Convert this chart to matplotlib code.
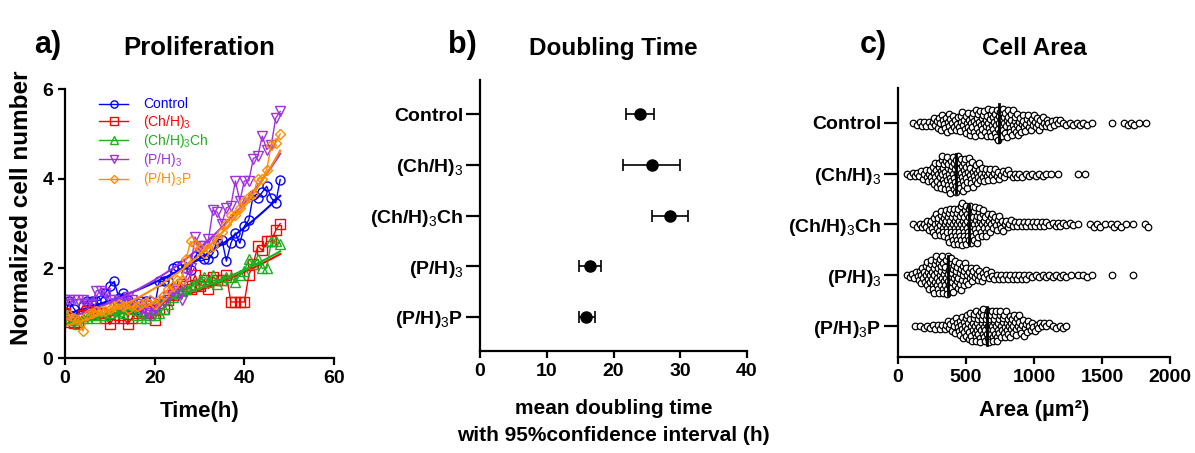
import numpy as np
import matplotlib
matplotlib.use('Agg')
import matplotlib.pyplot as plt

# --- Fonts ---
plt.rcParams['font.family'] = ['Liberation Sans', 'DejaVu Sans']
plt.rcParams['mathtext.fontset'] = 'custom'
plt.rcParams['mathtext.rm'] = 'Liberation Sans'
plt.rcParams['mathtext.default'] = 'rm'

# --- Data: a) proliferation, normalized cell number per hour ---
time_h = list(range(0, 49))

control = [1.0, 1.27, 1.1, 0.98, 1.15, 1.27, 1.27, 1.27, 1.3, 1.45, 1.6, 1.71, 1.34,
           1.45, 1.3, 1.15, 1.08, 1.27, 1.27, 1.27, 1.15, 1.71, 1.71, 1.71, 2.0, 2.05,
           2.08, 2.0, 1.97, 2.27, 2.27, 2.2, 2.2, 2.34, 2.64, 2.64, 2.16, 2.56, 2.79,
           2.56, 2.94, 3.08, 3.64, 3.57, 3.7, 3.83, 3.57, 3.46, 3.98]
ch_h3 = [1.0, 0.8, 0.78, 0.8, 0.95, 1.05, 1.0, 1.0, 1.0, 0.9, 0.75, 0.9, 0.95, 0.9,
         0.75, 0.9, 1.0, 1.05, 1.0, 1.0, 0.85, 1.1, 1.1, 1.3, 1.4, 1.5, 1.65, 1.6,
         1.55, 1.85, 1.6, 1.75, 1.55, 1.8, 1.75, 1.75, 1.85, 1.25, 1.25, 1.25, 1.25,
         1.85, 2.1, 2.5, 2.4, 2.6, 2.6, 2.85, 3.0]
ch_h3_ch = [1.0, 0.85, 0.85, 0.75, 0.9, 0.9, 0.95, 0.9, 0.95, 0.95, 1.0, 1.1, 1.05,
            1.0, 1.1, 1.2, 0.95, 0.9, 0.9, 0.95, 0.95, 1.0, 1.1, 1.2, 1.35, 1.45, 1.5,
            1.55, 1.6, 1.65, 1.75, 1.8, 1.7, 1.85, 1.65, 1.75, 1.8, 1.8, 1.7, 1.85,
            1.95, 2.2, 2.1, 2.2, 2.0, 2.0, 2.6, 2.6, 2.55]
p_h3 = [1.3, 1.3, 1.3, 1.3, 1.3, 1.2, 1.2, 1.5, 1.5, 1.45, 1.3, 1.3, 1.25, 1.2, 1.35,
        1.3, 1.2, 1.1, 1.0, 0.95, 1.1, 1.2, 1.25, 1.35, 1.5, 1.55, 1.3, 1.8, 2.0, 2.7,
        2.5, 2.5, 2.65, 3.3, 3.25, 3.0, 3.35, 3.4, 3.95, 3.5, 3.95, 3.95, 4.45, 4.5,
        4.95, 4.65, 4.75, 5.35, 5.5]
p_h3_p = [0.95, 0.95, 0.9, 0.85, 0.6, 0.95, 1.0, 1.05, 1.05, 1.05, 1.1, 1.15, 1.2,
          1.15, 1.1, 1.15, 1.15, 1.2, 1.25, 1.3, 1.2, 1.3, 1.4, 1.55, 1.6, 1.75, 1.75,
          2.2, 2.6, 2.55, 2.45, 2.35, 2.45, 2.5, 2.65, 2.8, 3.0, 3.2, 3.2, 3.35, 3.5,
          3.6, 3.65, 4.0, 4.0, 4.2, 4.75, 4.8, 5.0]

legend_labels = ['Control', '(Ch/H)$_3$', '(Ch/H)$_3$Ch', '(P/H)$_3$', '(P/H)$_3$P']
groups = ['Control', '(Ch/H)$_3$', '(Ch/H)$_3$Ch', '(P/H)$_3$', '(P/H)$_3$P']

# --- Data: b) doubling time (h), mean and 95% CI ---
dt_mean = [24.0, 25.7, 28.4, 16.5, 15.9]
dt_low = [21.8, 21.4, 25.7, 14.8, 14.8]
dt_high = [26.1, 30.0, 31.1, 18.1, 17.2]

# --- Data: c) cell area, counts per 50 um^2 bin (estimated from swarm) ---
area_bin_width = 50
area_bin_start = [100, 50, 100, 50, 100]
area_counts = [
    [2, 3, 3, 5, 7, 8, 7, 8, 10, 11, 11, 12, 13, 12, 11, 10, 8, 7, 6, 5, 4, 3, 2, 2,
     2, 2, 1, 0, 0, 1, 0, 2, 2, 1, 1],
    [2, 3, 4, 6, 11, 14, 16, 16, 15, 12, 10, 7, 6, 5, 4, 3, 3, 2, 2, 2, 2, 1, 1, 0,
     0, 1, 1],
    [2, 3, 5, 9, 12, 15, 17, 18, 17, 15, 12, 9, 7, 5, 4, 3, 3, 3, 3, 3, 2, 3, 2, 2,
     1, 0, 2, 2, 1, 2, 2, 1, 1, 0, 2],
    [2, 4, 8, 13, 16, 17, 16, 13, 11, 8, 6, 5, 4, 3, 3, 3, 3, 3, 2, 2, 2, 2, 2, 2,
     1, 1, 2, 1, 0, 0, 1, 0, 0, 1],
    [1, 2, 2, 3, 3, 5, 7, 10, 12, 14, 15, 15, 14, 12, 11, 9, 7, 5, 4, 3, 2, 2, 2],
]
area_median = [743, 425, 522, 370, 657]

COLORS = ['#0000FF', '#FF0000', '#1DAF1D', '#A030E0', '#FF8C00']
MARKERS = ['o', 's', '^', 'v', 'D']


def style_axis(ax):
    for side in ['top', 'right']:
        ax.spines[side].set_visible(False)
    for side in ['left', 'bottom']:
        ax.spines[side].set_linewidth(1.6)
    ax.tick_params(width=1.6, length=5, labelsize=14)
    for lbl in ax.get_xticklabels() + ax.get_yticklabels():
        lbl.set_fontweight('bold')


def expand_hist(start, counts, width):
    """Turn bin counts into values spread evenly inside each bin."""
    vals = []
    for i, n in enumerate(counts):
        b = start + i * width
        for k in range(n):
            vals.append(b + (k + 0.5) * width / n)
    return np.array(vals)


def swarm_offsets(values, xscale, d):
    """Simple beeswarm layout in pixel space, returns sorted values and y offsets (px)."""
    vals = np.sort(values)
    placed = []
    offs = []
    for v in vals:
        x = v * xscale
        near = [(px, py) for px, py in placed if abs(px - x) < d]
        cands = [0.0]
        for px, py in near:
            dy = np.sqrt(d * d - (px - x) ** 2)
            cands += [py + dy, py - dy]
        cands.sort(key=abs)
        best = cands[-1]
        for c in cands:
            if all((px - x) ** 2 + (py - c) ** 2 >= d * d - 1e-6 for px, py in near):
                best = c
                break
        placed.append((x, best))
        offs.append(best)
    return vals, np.array(offs)


fig = plt.figure(figsize=(11.95, 4.53), dpi=100)

# ---------- a) Proliferation ----------
ax1 = fig.add_axes([0.0544, 0.2097, 0.2251, 0.5938])
series = [control, ch_h3, ch_h3_ch, p_h3, p_h3_p]
t = np.array(time_h)
for y, lab, c, m in zip(series, legend_labels, COLORS, MARKERS):
    y = np.array(y)
    ms = 6.5 if m != 'D' else 5
    ax1.plot(t, y, color=c, lw=1, marker=m, ms=ms, mfc='none', mec=c, mew=1, label=lab)
    # exponential growth fit
    k, b = np.polyfit(t, np.log(y), 1)
    tf = np.linspace(t.min(), t.max(), 100)
    ax1.plot(tf, np.exp(b + k * tf), color=c, lw=1.5)
ax1.set_xlim(0, 60)
ax1.set_ylim(0, 6)
ax1.set_xticks([0, 20, 40, 60])
ax1.set_yticks([0, 2, 4, 6])
ax1.set_xlabel('Time(h)', fontsize=16, fontweight='bold', labelpad=10)
ax1.set_ylabel('Normalized cell number', fontsize=17.5, fontweight='bold')
ax1.yaxis.set_label_coords(-0.12, 0.56)
style_axis(ax1)
ax1.legend(loc='upper left', bbox_to_anchor=(0.08, 1.015), frameon=False, fontsize=10,
           handlelength=2.1, handletextpad=1.1, labelspacing=0.09, labelcolor='linecolor',
           markerscale=0.8)

# ---------- b) Doubling time ----------
ax2 = fig.add_axes([0.4017, 0.2252, 0.2234, 0.598])
ypos = np.arange(len(groups))
mean = np.array(dt_mean)
xerr = [mean - np.array(dt_low), np.array(dt_high) - mean]
ax2.errorbar(mean, ypos, xerr=xerr, fmt='o', color='black', ms=8, capsize=4,
             elinewidth=1.2, capthick=1.2)
ax2.set_xlim(0, 40)
ax2.set_xticks([0, 10, 20, 30, 40])
ax2.set_ylim(4.67, -0.67)
ax2.set_yticks(ypos)
ax2.set_yticklabels(groups)
ax2.set_xlabel('mean doubling time\nwith 95%confidence interval (h)', fontsize=15,
               fontweight='bold', labelpad=14, linespacing=1.5)
style_axis(ax2)
ax2.tick_params(axis='y', length=10, pad=2)

# ---------- c) Cell area ----------
ax3 = fig.add_axes([0.7515, 0.2119, 0.2276, 0.594])
xscale = 272 / 2000.0   # px per um^2
yscale = 50.75          # px per category
for i in range(len(groups)):
    vals = expand_hist(area_bin_start[i], area_counts[i], area_bin_width)
    xs, offs = swarm_offsets(vals, xscale, 4.0)
    ax3.scatter(xs, i + offs / yscale, s=22, facecolor='white', edgecolor='black',
                linewidth=0.9, zorder=2)
    ax3.plot([area_median[i]] * 2, [i - 0.38, i + 0.38], color='black', lw=2, zorder=3)
ax3.set_xlim(0, 2000)
ax3.set_xticks([0, 500, 1000, 1500, 2000])
ax3.set_ylim(4.61, -0.69)
ax3.set_yticks(ypos)
ax3.set_yticklabels(groups)
ax3.set_xlabel('Area (µm²)', fontsize=16, fontweight='bold', labelpad=10)
style_axis(ax3)
ax3.tick_params(axis='y', length=10, pad=2)

# ---------- titles and panel letters ----------
fig.text(0.1670, 0.893, 'Proliferation', ha='center', va='center', fontsize=18.5, fontweight='bold')
fig.text(0.5134, 0.893, 'Doubling Time', ha='center', va='center', fontsize=17.5, fontweight='bold')
fig.text(0.8653, 0.893, 'Cell Area', ha='center', va='center', fontsize=17.5, fontweight='bold')
fig.text(0.040, 0.900, 'a)', ha='center', va='center', fontsize=22, fontweight='bold')
fig.text(0.387, 0.900, 'b)', ha='center', va='center', fontsize=22, fontweight='bold')
fig.text(0.731, 0.900, 'c)', ha='center', va='center', fontsize=22, fontweight='bold')

fig.savefig('out.png', dpi=100)
